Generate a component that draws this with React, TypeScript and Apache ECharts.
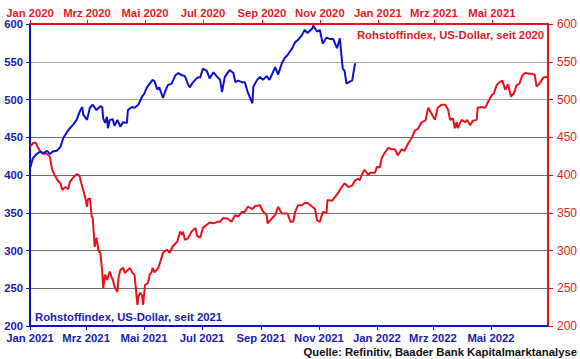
import React, { useEffect, useRef } from "react";
import * as echarts from "echarts";

// Monthly label names (German)
const MONTHS = ["Jan", "Feb", "Mrz", "Apr", "Mai", "Jun", "Jul", "Aug", "Sep", "Okt", "Nov", "Dez"];

// Number of daily categories on each x axis
const DAY_COUNT = 546;
const TOP_START = "2020-01-01";
const BOTTOM_START = "2021-01-01";

// Y axis range / ticks
const Y_MIN = 200;
const Y_MAX = 600;
const Y_INTERVAL = 50;

// Red series: Rohstoffindex since 2020 (top axis, right scale) — day offsets from 2020-01-01
const redDay = [0, 3, 6, 8, 11, 14, 18, 21, 23, 24, 26, 29, 32, 34, 37, 39, 40, 42, 45, 49, 52, 55, 58, 60, 61, 63, 65, 66, 68, 70, 72, 74, 76, 77, 79, 81, 84, 86, 87, 89, 92, 93, 95, 98, 100, 102, 105, 108, 110, 113, 114, 116, 118, 119, 121, 124, 126, 128, 129, 131, 135, 137, 140, 144, 147, 150, 155, 158, 160, 161, 163, 166, 170, 174, 176, 179, 182, 186, 189, 193, 197, 200, 203, 208, 212, 216, 219, 223, 226, 229, 234, 237, 242, 245, 249, 250, 255, 258, 261, 265, 268, 271, 274, 277, 279, 282, 286, 289, 292, 297, 300, 302, 305, 308, 312, 313, 318, 321, 324, 328, 331, 335, 339, 342, 345, 347, 349, 352, 356, 358, 363, 365, 368, 370, 373, 377, 381, 384, 387, 391, 394, 398, 402, 405, 408, 412, 416, 419, 423, 426, 429, 433, 437, 440, 442, 445, 447, 449, 450, 454, 458, 460, 463, 466, 470, 471, 475, 479, 482, 486, 488, 491, 494, 497, 500, 503, 506, 509, 512, 515, 518, 521, 526, 531, 533, 536, 540, 544, 545];
const redVal = [437, 442, 443, 437, 431, 428, 428, 424, 409, 405, 400, 393, 389, 380, 384, 383, 381, 391, 396, 401, 399, 384, 371, 358, 368, 369, 345, 343, 305, 317, 300, 297, 272, 250, 268, 261, 272, 264, 262, 252, 245, 263, 274, 277, 270, 273, 277, 270, 268, 228, 239, 244, 240, 228, 254, 257, 268, 272, 277, 271, 277, 285, 297, 301, 297, 305, 312, 325, 321, 325, 314, 316, 325, 330, 319, 317, 330, 334, 337, 336, 338, 338, 343, 342, 338, 347, 345, 351, 351, 358, 355, 359, 360, 352, 347, 336, 343, 347, 358, 349, 349, 349, 338, 338, 351, 360, 360, 363, 363, 358, 355, 340, 338, 351, 350, 367, 366, 371, 376, 384, 389, 384, 386, 393, 395, 393, 400, 407, 400, 403, 403, 411, 410, 422, 429, 436, 434, 434, 426, 434, 432, 442, 450, 459, 461, 470, 472, 489, 480, 473, 489, 493, 493, 486, 473, 475, 462, 470, 462, 473, 470, 473, 466, 472, 473, 489, 490, 489, 497, 506, 508, 519, 523, 525, 513, 520, 504, 508, 519, 521, 532, 535, 534, 533, 517, 521, 529, 530, 530];

// Blue series: Rohstoffindex since 2021 (bottom axis, left scale) — day offsets from 2021-01-01
const blueDay = [0, 1, 3, 7, 11, 14, 18, 21, 24, 28, 32, 35, 39, 42, 45, 49, 53, 55, 56, 60, 63, 66, 70, 74, 76, 77, 79, 81, 82, 84, 87, 89, 92, 95, 98, 102, 103, 107, 110, 114, 118, 120, 123, 126, 129, 131, 134, 136, 140, 142, 145, 149, 153, 156, 160, 163, 166, 168, 171, 176, 179, 182, 186, 189, 193, 197, 200, 202, 205, 210, 214, 216, 219, 223, 226, 229, 234, 235, 239, 242, 245, 249, 252, 258, 261, 265, 268, 271, 276, 279, 282, 286, 289, 292, 297, 298, 302, 305, 308, 312, 316, 319, 323, 326, 329, 331, 333, 337, 339, 342];
const blueVal = [409, 413, 422, 428, 431, 429, 432, 428, 431, 432, 437, 449, 457, 462, 466, 473, 486, 490, 480, 473, 489, 493, 486, 491, 490, 475, 469, 477, 462, 473, 474, 465, 473, 464, 470, 469, 486, 490, 489, 493, 504, 507, 516, 521, 526, 524, 513, 516, 502, 510, 519, 521, 532, 535, 532, 531, 521, 516, 522, 529, 529, 541, 538, 528, 536, 530, 526, 510, 530, 539, 535, 523, 525, 523, 523, 510, 495, 517, 526, 530, 526, 531, 526, 543, 533, 548, 555, 559, 568, 576, 579, 585, 592, 588, 594, 598, 590, 592, 574, 582, 580, 580, 568, 581, 541, 538, 521, 524, 525, 548];

const RED_LABEL = "Rohstoffindex, US-Dollar, seit 2020";
const BLUE_LABEL = "Rohstoffindex, US-Dollar, seit 2021";
const SOURCE = "Quelle: Refinitiv, Baader Bank Kapitalmarktanalyse";

const BLUE = "#1010cc";
const BLUE_TEXT = "#1c1cb0";
const RED = "#e8121c";
const RED_TEXT = "#dc1e26";
const FONT = "Liberation Sans, Arial, sans-serif";
const FS = 11.3;

function buildDays(start: string, n: number): string[] {
  const [y, m, d] = start.split("-").map(Number);
  const base = Date.UTC(y, m - 1, d);
  const out: string[] = [];
  for (let i = 0; i < n; i++) {
    const dt = new Date(base + i * 86400000);
    const mm = String(dt.getUTCMonth() + 1).padStart(2, "0");
    const dd = String(dt.getUTCDate()).padStart(2, "0");
    out.push(`${dt.getUTCFullYear()}-${mm}-${dd}`);
  }
  return out;
}

const topDays = buildDays(TOP_START, DAY_COUNT);
const bottomDays = buildDays(BOTTOM_START, DAY_COUNT);

function isTickDay(index: number, value: string): boolean {
  if (index >= DAY_COUNT - 1) return false;
  const parts = value.split("-");
  const m = Number(parts[1]);
  return parts[2] === "01" && m % 2 === 1;
}

function fmt(value: string): string {
  const parts = value.split("-");
  return `${MONTHS[Number(parts[1]) - 1]} ${parts[0]}`;
}

export default function App() {
  const ref = useRef<HTMLDivElement>(null);

  useEffect(() => {
    if (!ref.current) return;
    const chart = echarts.init(ref.current, undefined, { renderer: "svg" });

    const xCommon = (color: string, labelColor: string, position: "top" | "bottom", data: string[], margin: number) => ({
      type: "category" as const,
      position,
      data,
      boundaryGap: false,
      axisLine: { show: true, onZero: false, lineStyle: { color, width: 2 } },
      axisTick: { show: true, interval: isTickDay, length: 4, lineStyle: { color, width: 1 } },
      axisLabel: {
        interval: isTickDay,
        formatter: fmt,
        color: labelColor,
        fontFamily: FONT,
        fontWeight: "bold",
        fontSize: FS,
        margin,
      },
      splitLine: { show: false },
    });

    chart.setOption({
      animation: false,
      backgroundColor: "#ffffff",
      grid: { left: 30, right: 31, top: 24, bottom: 33, containLabel: false },
      xAxis: [
        xCommon(BLUE, BLUE_TEXT, "bottom", bottomDays, 6),
        xCommon(RED, RED_TEXT, "top", topDays, 6),
      ],
      yAxis: [
        {
          type: "value",
          position: "left",
          min: Y_MIN,
          max: Y_MAX,
          interval: Y_INTERVAL,
          axisLine: { show: true, lineStyle: { color: BLUE, width: 2 } },
          axisTick: { show: true, length: 4, lineStyle: { color: BLUE } },
          axisLabel: { color: BLUE_TEXT, fontFamily: FONT, fontWeight: "bold", fontSize: FS, margin: 7 },
          splitLine: {
            show: true,
            lineStyle: {
              color: ["#777", "#6e6e6e", "#6e6e6e", "#6e6e6e", "#6e6e6e", "#6e6e6e", "#a8a8a8", "#a8a8a8", "#777"],
              width: 1.2,
            },
          },
        },
        {
          type: "value",
          position: "right",
          min: Y_MIN,
          max: Y_MAX,
          interval: Y_INTERVAL,
          axisLine: { show: true, lineStyle: { color: RED, width: 2 } },
          axisTick: { show: true, length: 5, lineStyle: { color: RED } },
          axisLabel: { color: RED_TEXT, fontFamily: FONT, fontSize: FS + 0.7, margin: 9 },
          splitLine: { show: false },
        },
      ],
      series: [
        {
          type: "line",
          name: RED_LABEL,
          xAxisIndex: 1,
          yAxisIndex: 1,
          data: redDay.map((d, i) => [d, redVal[i]]),
          showSymbol: false,
          symbol: "none",
          lineStyle: { color: RED, width: 2 },
          z: 3,
        },
        {
          type: "line",
          name: BLUE_LABEL,
          xAxisIndex: 0,
          yAxisIndex: 0,
          data: blueDay.map((d, i) => [d, blueVal[i]]),
          showSymbol: false,
          symbol: "none",
          lineStyle: { color: BLUE, width: 2 },
          z: 4,
        },
      ],
      graphic: [
        {
          type: "text",
          right: 36,
          top: 29,
          style: { text: RED_LABEL, fill: RED_TEXT, font: `bold ${FS}px ${FONT}` },
        },
        {
          type: "text",
          left: 35,
          top: 311,
          style: { text: BLUE_LABEL, fill: BLUE_TEXT, font: `bold ${FS}px ${FONT}` },
        },
        {
          type: "text",
          right: 3,
          top: 346,
          style: { text: SOURCE, fill: "#111", font: `bold ${FS}px ${FONT}` },
        },
      ],
    });

    return () => chart.dispose();
  }, []);

  return <div ref={ref} style={{ width: 580, height: 359, position: "absolute", left: 0, top: 0 }} />;
}
